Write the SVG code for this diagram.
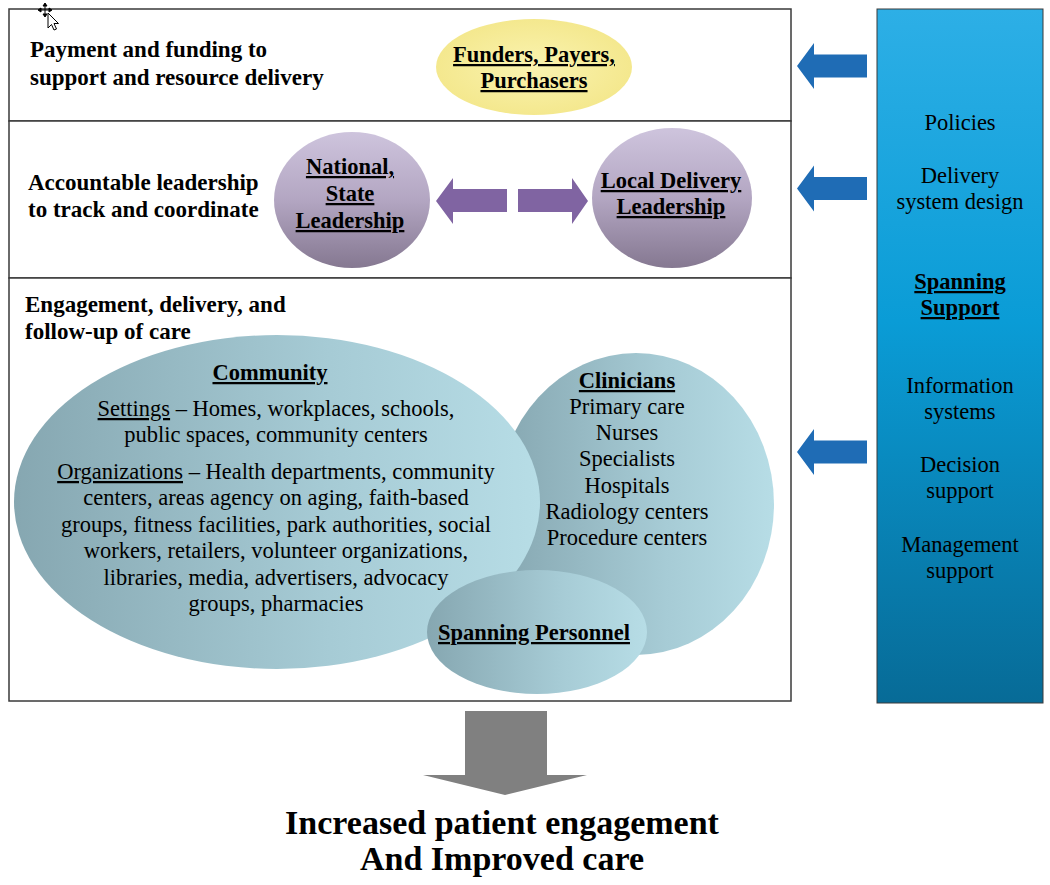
<svg xmlns="http://www.w3.org/2000/svg" width="1050" height="885" viewBox="0 0 1050 885" font-family="'Liberation Serif', 'Times New Roman', Tinos, 'DejaVu Serif', serif">
<defs>
<style>
text{font-family:'Liberation Serif','Times New Roman',Tinos,'DejaVu Serif',serif;fill:#000}
.h{font-size:23px;font-weight:bold}
.b{font-size:22.5px;font-weight:bold;text-decoration:underline}
.r{font-size:22.5px}
.c{text-anchor:middle}
.u{text-decoration:underline}
.frame{fill:#fff;stroke:#3a3a3a;stroke-width:1.5}
.barrow{fill:#1F6CB5}
.parrow{fill:#8064A2}
</style>
<linearGradient id="blueCol" x1="0" y1="0" x2="0" y2="1">
<stop offset="0" stop-color="#2DAFE6"/>
<stop offset="0.45" stop-color="#0A9CD6"/>
<stop offset="1" stop-color="#076B97"/>
</linearGradient>
<linearGradient id="purp" x1="0" y1="0" x2="0" y2="1">
<stop offset="0" stop-color="#CEC4DD"/>
<stop offset="0.5" stop-color="#B3A6C2"/>
<stop offset="1" stop-color="#857891"/>
</linearGradient>
<radialGradient id="yel" cx="0.5" cy="0.5" r="0.5">
<stop offset="0" stop-color="#FAF3B0"/>
<stop offset="1" stop-color="#F4E88E"/>
</radialGradient>
<linearGradient id="teal" x1="0" y1="0" x2="1" y2="0">
<stop offset="0" stop-color="#86A7B1"/>
<stop offset="0.6" stop-color="#A6CBD5"/>
<stop offset="1" stop-color="#B7DDE6"/>
</linearGradient>
</defs>

<g id="frame">
<rect class="frame" x="9" y="9" width="782" height="112"/>
<rect class="frame" x="9" y="121" width="782" height="157"/>
<rect class="frame" x="9" y="278" width="782" height="423"/>
</g>

<g id="cursor" stroke="#000" stroke-width="1" fill="#fff">
<path d="M45,4 L45,16 M39,10 L51,10" fill="none"/>
<path d="M43,6 L45,3 L47,6 Z M43,14 L45,17 L47,14 Z M41,8 L38,10 L41,12 Z M49,8 L52,10 L49,12 Z" fill="#000"/>
<path d="M48,13 L48,28 L51.5,24.5 L54,30 L56.5,29 L54,23.5 L58.5,23.5 Z"/>
</g>

<g id="row-labels">
<text class="h" x="30" y="57">Payment and funding to</text>
<text class="h" x="30" y="85">support and resource delivery</text>
<text class="h" x="28" y="190">Accountable leadership</text>
<text class="h" x="28" y="217">to track and coordinate</text>
<text class="h" x="25" y="312">Engagement, delivery, and</text>
<text class="h" x="25" y="339">follow-up of care</text>
</g>

<g id="funders">
<ellipse cx="534" cy="67" rx="98" ry="48" fill="url(#yel)"/>
<text class="b c" x="534" y="62">Funders, Payers,</text>
<text class="b c" x="534" y="88">Purchasers</text>
</g>

<g id="national">
<ellipse cx="352" cy="200" rx="78" ry="68" fill="url(#purp)"/>
<text class="b c" x="350" y="174">National,</text>
<text class="b c" x="350" y="201">State</text>
<text class="b c" x="350" y="228">Leadership</text>
</g>

<g id="local">
<ellipse cx="672" cy="198" rx="80" ry="70" fill="url(#purp)"/>
<text class="b c" x="671" y="188">Local Delivery</text>
<text class="b c" x="671" y="214">Leadership</text>
</g>

<g id="clinicians">
<ellipse cx="636" cy="504" rx="138" ry="151" fill="url(#teal)"/>
</g>

<g id="community">
<ellipse cx="277" cy="502" rx="263" ry="167" fill="url(#teal)"/>
<text class="b c" x="270" y="380">Community</text>
<text class="r c" x="276" y="416"><tspan class="u">Settings</tspan> – Homes, workplaces, schools,</text>
<text class="r c" x="276" y="442">public spaces, community centers</text>
<text class="r c" x="276" y="479"><tspan class="u">Organizations</tspan> – Health departments, community</text>
<text class="r c" x="276" y="505">centers, areas agency on aging, faith-based</text>
<text class="r c" x="276" y="532">groups, fitness facilities, park authorities, social</text>
<text class="r c" x="276" y="558">workers, retailers, volunteer organizations,</text>
<text class="r c" x="276" y="585">libraries, media, advertisers, advocacy</text>
<text class="r c" x="276" y="611">groups, pharmacies</text>
</g>

<g id="clinicians-text">
<text class="b c" x="627" y="388">Clinicians</text>
<text class="r c" x="627" y="414">Primary care</text>
<text class="r c" x="627" y="440">Nurses</text>
<text class="r c" x="627" y="466">Specialists</text>
<text class="r c" x="627" y="493">Hospitals</text>
<text class="r c" x="627" y="519">Radiology centers</text>
<text class="r c" x="627" y="545">Procedure centers</text>
</g>

<g id="spanning-personnel">
<ellipse cx="537" cy="632" rx="110" ry="62" fill="url(#teal)"/>
<text class="b c" x="534" y="640">Spanning Personnel</text>
</g>

<g id="spanning-support">
<rect x="877" y="9" width="166" height="694" fill="url(#blueCol)" stroke="#3a3a3a" stroke-width="1"/>
<text class="r c" x="960" y="130">Policies</text>
<text class="r c" x="960" y="183">Delivery</text>
<text class="r c" x="960" y="209">system design</text>
<text class="b c" x="960" y="289">Spanning</text>
<text class="b c" x="960" y="315">Support</text>
<text class="r c" x="960" y="393">Information</text>
<text class="r c" x="960" y="419">systems</text>
<text class="r c" x="960" y="472">Decision</text>
<text class="r c" x="960" y="498">support</text>
<text class="r c" x="960" y="552">Management</text>
<text class="r c" x="960" y="578">support</text>
</g>

<g id="outcome">
<text class="c" x="502" y="834" style="font-size:34px;font-weight:bold">Increased patient engagement</text>
<text class="c" x="502" y="870" style="font-size:34px;font-weight:bold">And Improved care</text>
</g>

<g id="connectors">
<polygon class="barrow" points="797,66 814,43 814,54.5 867,54.5 867,77.5 814,77.5 814,89"/>
<polygon class="barrow" points="797,188.5 814,165.5 814,177 867,177 867,200 814,200 814,211.5"/>
<polygon class="barrow" points="797,452 814,429 814,440.5 867,440.5 867,463.5 814,463.5 814,475"/>
<polygon class="parrow" points="436,201 453,178 453,189 507,189 507,212 453,212 453,224"/>
<polygon class="parrow" points="588,201 572,178 572,189 518,189 518,212 572,212 572,224"/>
<polygon fill="#808080" points="465,711 547,711 547,775 587,775 505,795 423,775 465,775"/>
</g>
</svg>
